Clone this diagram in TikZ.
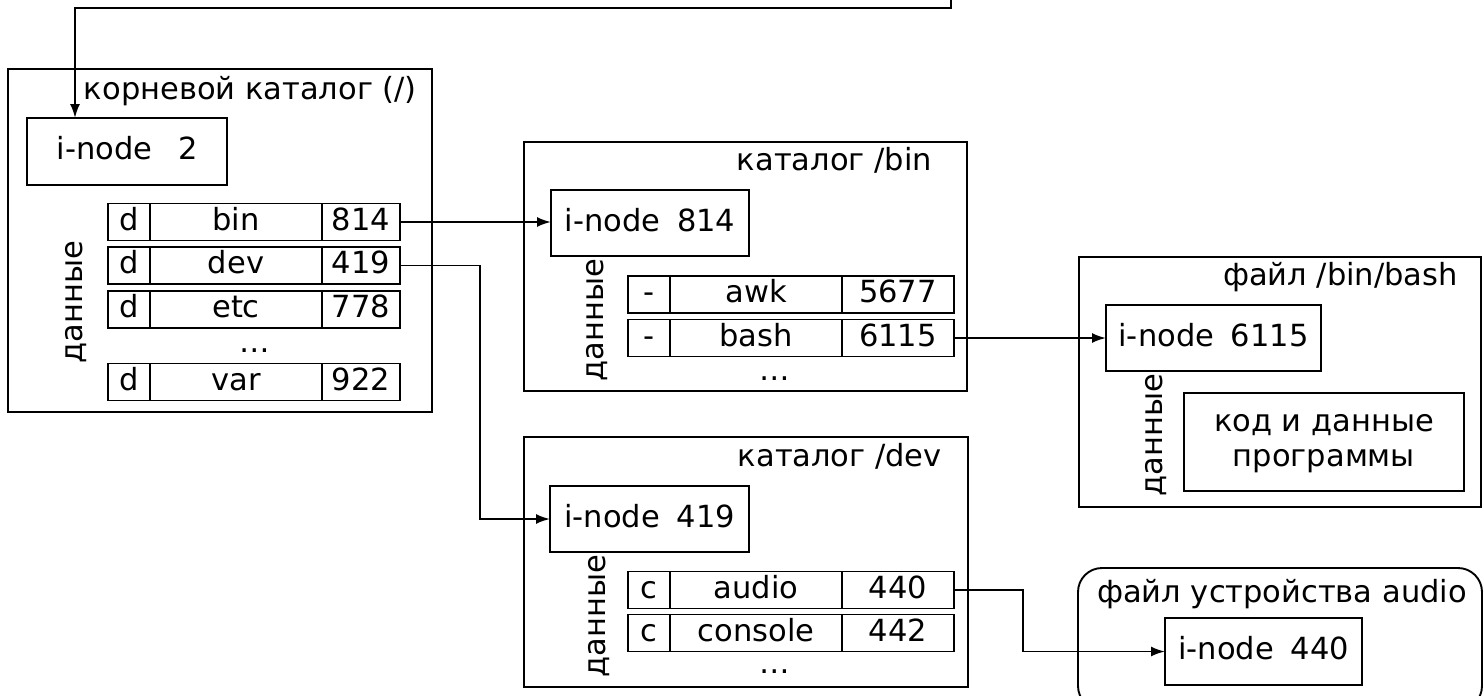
\documentclass[tikz,border=0pt]{standalone}
\usepackage{fontspec}
\setmainfont{DejaVu Sans}
\usetikzlibrary{arrows.meta}
\tikzset{
  ln/.style={line width=1.9pt},
  frame/.style={draw, ln, inner sep=0pt, outer sep=0pt},
  cell/.style={draw, ln, inner sep=0pt, outer sep=0pt, minimum height=37pt, text height=23pt, text depth=7pt, anchor=west},
  inode/.style={draw, ln, inner sep=0pt, outer sep=0pt, text height=23pt, text depth=7pt},
  title/.style={inner sep=0pt, anchor=base east},
  datalabel/.style={rotate=90, inner sep=0pt, text height=23pt, text depth=7pt},
  dotsnode/.style={inner sep=0pt, anchor=base},
  arr/.style={ln, -{Latex[length=14pt,width=10pt]}}
}
\newcommand\direntry[7]{%
  \node[cell, minimum width=42pt] (#1t) at (#2,#3) {#5};
  \node[cell, minimum width=172pt] (#1n) at (#1t.east) {#6};
  \node[cell, minimum width=#4] (#1v) at (#1n.east) {#7};
}
\begin{document}
\begin{tikzpicture}[x=1pt,y=-1pt,font=\fontsize{30.5}{35}\selectfont]
\fill[white, use as bounding box] (0,0) rectangle (1484,696);

% ---- root directory
\node[frame, minimum width=424pt, minimum height=343pt] (root) at (220,240.5) {};
\node[title] (roottitle) at (417,99) {корневой каталог (/)};
\node[inode, minimum width=200pt, minimum height=67pt] (inode2) at (127,151.5) {i-node\hspace{0.85em}2};
\node[datalabel] (rootdata) at (74,302) {данные};
\direntry{rb}{108}{222}{78pt}{d}{bin}{814}
\direntry{rd}{108}{265.5}{78pt}{d}{dev}{419}
\direntry{re}{108}{309.5}{78pt}{d}{etc}{778}
\node[dotsnode] (rootdots) at (255,352) {…};
\direntry{rv}{108}{382}{78pt}{d}{var}{922}

% ---- /bin
\node[frame, minimum width=443pt, minimum height=249pt] (bin) at (745.5,266.5) {};
\node[title] (bintitle) at (932,170) {каталог /bin};
\node[inode, minimum width=198pt, minimum height=66pt] (inode814) at (650,223) {i-node\hspace{0.55em}814};
\node[datalabel] (bindata) at (595,320) {данные};
\direntry{ba}{628}{294.5}{112pt}{-}{awk}{5677\hspace{12pt}}
\direntry{bb}{628}{338}{112pt}{-}{bash}{6115\hspace{12pt}}
\node[dotsnode] (bindots) at (775,380) {…};

% ---- /dev
\node[frame, minimum width=444pt, minimum height=250pt] (dev) at (746,562) {};
\node[title] (devtitle) at (942,466) {каталог /dev};
\node[inode, minimum width=199pt, minimum height=66pt] (inode419) at (649.5,519) {i-node\hspace{0.55em}419};
\node[datalabel] (devdata) at (597,616) {данные};
\direntry{da}{628}{590}{112pt}{c}{audio}{440}
\direntry{dc}{628}{633}{112pt}{c}{console}{442}
\node[dotsnode] (devdots) at (775,673) {…};

% ---- /bin/bash
\node[frame, minimum width=402pt, minimum height=250pt] (bash) at (1280,382) {};
\node[title] (bashtitle) at (1458,285) {файл /bin/bash};
\node[inode, minimum width=215pt, minimum height=66pt] (inode6115) at (1213.5,338) {i-node\hspace{0.55em}6115};
\node[datalabel] (bashdata) at (1154,435) {данные};
\node[frame, minimum width=280pt, minimum height=98pt] (code) at (1324,442) {};
\node[align=center, inner sep=0pt] (codetext) at ([yshift=-2pt]code.center) {код и данные\\программы};

% ---- audio device file
\node[frame, rounded corners=24pt, minimum width=404pt, minimum height=142pt] (audio) at (1280,639) {};
\node[inner sep=0pt, anchor=base] (audiotitle) at (1282,602) {файл устройства audio};
\node[inode, minimum width=197pt, minimum height=67pt] (inode440) at (1263.5,651.5) {i-node\hspace{0.55em}440};

% ---- connectors
\coordinate (entry) at (951,-3);
\draw[arr] (entry) -- ++(0,11) -| ([xshift=48pt]inode2.north west);
\draw[arr] (rbv.east) -- (rbv.east -| inode814.west);
\draw[arr] (rdv.east) -- ++(80,0) |- (inode419.west);
\draw[arr] (bbv.east) -- (bbv.east -| inode6115.west);
\draw[arr] (dav.east) -- ++(69,0) |- (inode440.west);
\end{tikzpicture}
\end{document}
